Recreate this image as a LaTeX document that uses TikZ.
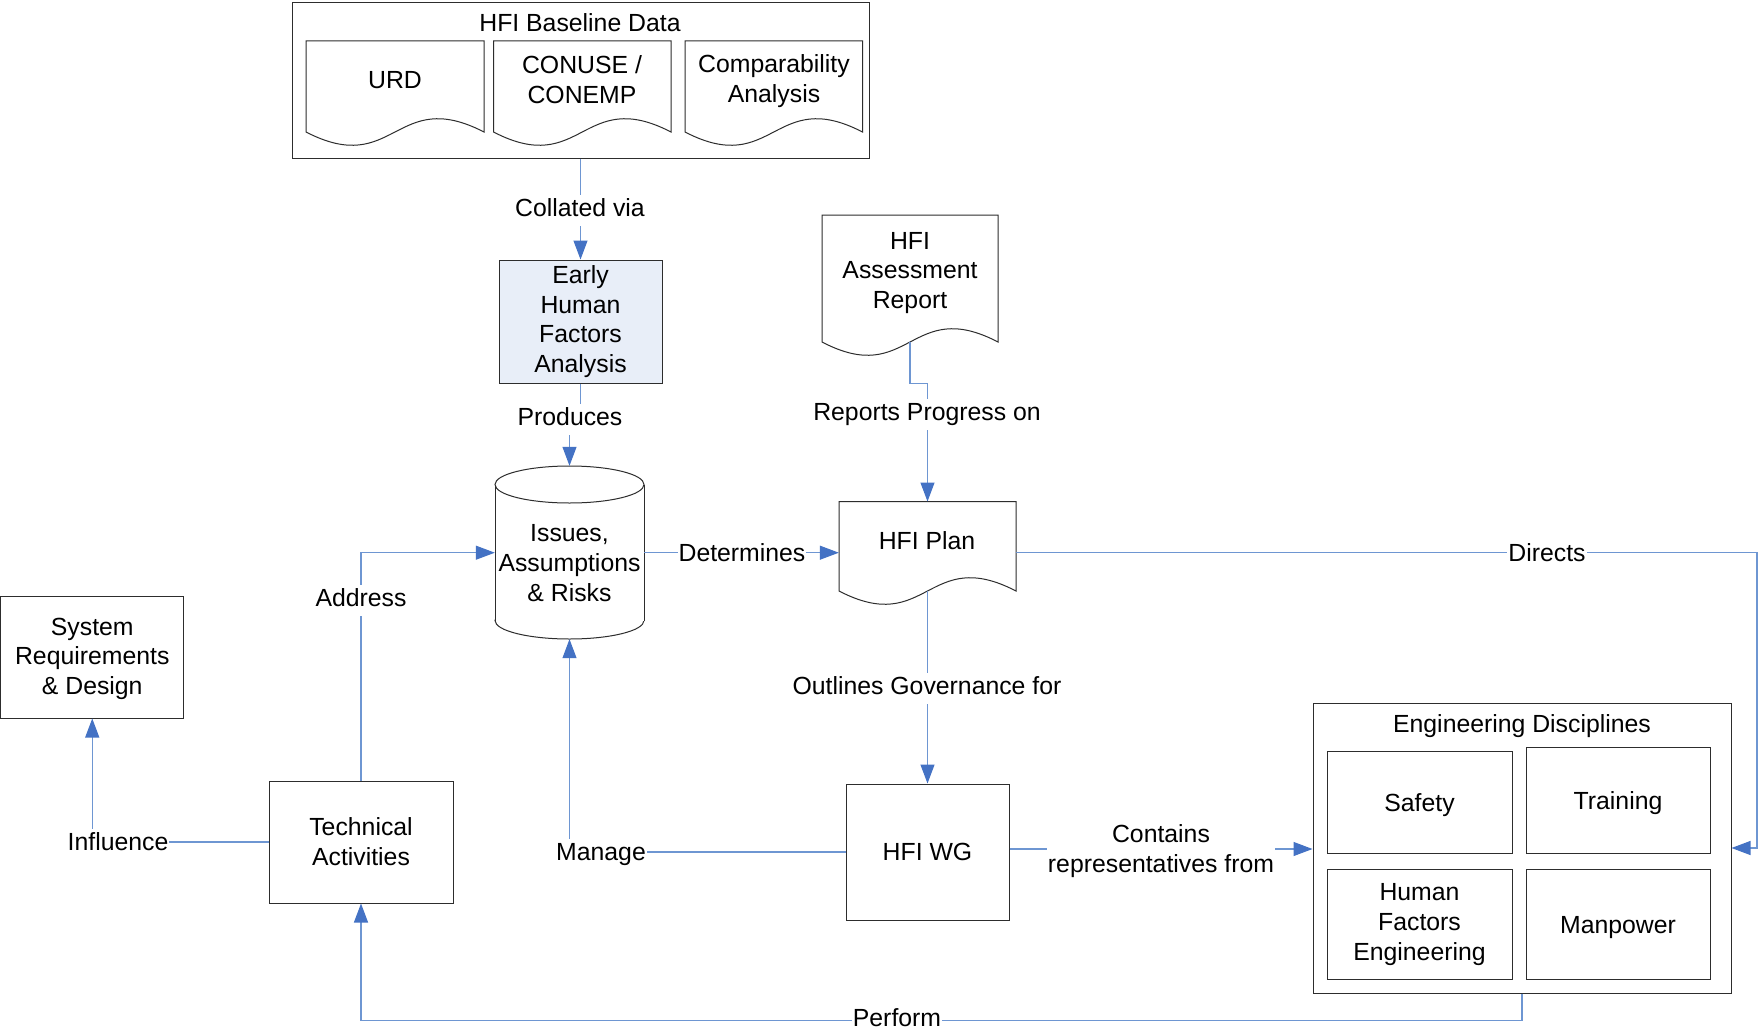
\documentclass[tikz,border=0pt]{standalone}
\usepackage{fontspec}
\setmainfont{Liberation Sans}
\usetikzlibrary{arrows.meta,calc}
\definecolor{connc}{RGB}{110,150,210}
\definecolor{arrowc}{RGB}{68,114,196}
\definecolor{ehfafill}{RGB}{232,238,248}
\definecolor{borderc}{RGB}{45,45,45}
\newcommand\docshape[4]{%
  \draw[boxline] (#1,#4) -- (#1,#2) -- (#3,#2) -- (#3,#4) .. controls ({(#1+#3)/2},{#4-46}) and ({(#1+#3)/2},{#4+46}) .. (#1,#4) -- cycle;}
\begin{document}
\begin{tikzpicture}[x=1pt,y=-1pt,
  every node/.style={font=\fontsize{24.8}{29.8}\selectfont, inner sep=0pt},
  boxline/.style={draw=borderc, line width=1pt},
  plainbox/.style={boxline, rectangle, align=center},
  connline/.style={draw=connc, line width=1.1pt},
  arr/.style={connline, -{Triangle[length=19pt,width=14pt,color=arrowc]}},
  lab/.style={fill=white, inner xsep=1pt, inner ysep=4pt, text height=18pt, text depth=5pt},
  lab2/.style={fill=white, inner xsep=1pt, inner ysep=3pt, align=center},
  anchorbox/.style={rectangle, draw=none, inner sep=0pt}]
\useasboundingbox (0,0) rectangle (1758,1030);
\fill[white] (0,0) rectangle (1758,1030);

% HFI Baseline Data group
\node (base) [plainbox, minimum width=577pt, minimum height=155pt] at (580.5,80.5) {};
\node (basetitle) at (580,23) {HFI Baseline Data};
\docshape{306}{41}{484}{132}
\node (urd) at (395,80) {URD};
\docshape{493.5}{41}{671}{132}
\node (conuse) [align=center] at (582,80) {CONUSE /\\CONEMP};
\docshape{685}{41}{862.5}{132}
\node (comp) [align=center] at (774,81) {Comparability\\Analysis};

% Early Human Factors Analysis
\node (ehfa) [plainbox, fill=ehfafill, minimum width=163pt, minimum height=123pt] at (580.5,321.5) {Early\\Human\\Factors\\Analysis};

% Cylinder
\draw[boxline, fill=white] (569.5,620.5) ellipse [x radius=74.5, y radius=18.5];
\fill[white] (495,484.5) rectangle (644,620.5);
\draw[boxline] (495,484.5) -- (495,620.5) (644,484.5) -- (644,620.5);
\draw[boxline] (569.5,484.5) ellipse [x radius=74.5, y radius=18.5];
\node (iar) [anchorbox, minimum width=149pt, minimum height=173pt] at (569.5,552.5) {};
\node (iartext) [align=center] at (569.5,563) {Issues,\\Assumptions\\\& Risks};

% HFI Assessment Report
\docshape{822}{215}{998}{342}
\node (ar) [anchorbox, minimum width=176pt, minimum height=127pt] at (910,278.5) {};
\node (artext) [align=center] at (910,273) {HFI\\Assessment\\Report};

% HFI Plan
\docshape{839}{501.7}{1016}{591}
\node (plan) [anchorbox, minimum width=177pt, minimum height=89.3pt] at (927.5,546.35) {};
\node (plantext) at (927,541) {HFI Plan};

% HFI WG
\node (wg) [plainbox, minimum width=163pt, minimum height=136pt] at (927.5,852) {HFI WG};

% System Requirements
\node (sys) [plainbox, minimum width=183pt, minimum height=122pt] at (92.25,657) {\strut System\\Requirements\\\& Design};

% Technical Activities
\node (ta) [plainbox, minimum width=184pt, minimum height=122pt] at (361,842) {Technical\\Activities};

% Engineering Disciplines
\node (eng) [plainbox, minimum width=418pt, minimum height=290pt] at (1522,848) {};
\node (engtitle) at (1522,726) {Engineering Disciplines};
\node (safety) [plainbox, minimum width=185pt, minimum height=102pt] at (1419.5,802) {\raisebox{0pt}[18pt][0pt]{Safety}};
\node (training) [plainbox, minimum width=184pt, minimum height=106pt] at (1618,800) {\raisebox{0pt}[18pt][0pt]{Training}};
\node (hfe) [plainbox, minimum width=185pt, minimum height=110pt] at (1419.5,924) {\raisebox{0pt}[18pt][0pt]{Human}\\Factors\\Engineering};
\node (manpower) [plainbox, minimum width=184pt, minimum height=110pt] at (1618,924) {\raisebox{0pt}[18pt][0pt]{Manpower}};

% Connectors
\coordinate (yA) at (0,552.7);
\coordinate (yC) at (0,849);
\coordinate (dirc) at (1757,552.7);
\draw[arr] (base.south) -- (ehfa.north);
\draw[arr] (ehfa.south) -- ++(0,34) -| (iar.north);
\draw[arr] (ar.south) -- ++(0,41) -| (plan.north);
\draw[arr] (iar.east |- yA) -- (plan.west |- yA);
\draw[arr] (plan.east |- yA) -- (dirc) |- (eng.east);
\draw[arr] (plan.south) -- (wg.north);
\draw[arr] (wg.east |- yC) -- (eng.west |- yC);
\draw[arr] (wg.west) -| (iar.south);
\draw[arr] (ta.north) |- (iar.west |- yA);
\draw[arr] (ta.west) -| (sys.south);
\draw[arr] (eng.south) -- ++(0,27) -| (ta.south);

% Labels
\node[lab] (lcoll) at (580,210) {Collated via};
\node[lab] (lprod) at (570,419) {Produces};
\node[lab] (lrep) at (927,414) {Reports Progress on};
\node[lab] (ldet) at (742,555) {Determines};
\node[lab] (ldir) at (1547,555) {Directs};
\node[lab] (lout) at (927,688) {Outlines Governance for};
\node[lab2] (lcont) at (1161,851) {Contains\\representatives from};
\node[lab] (lman) at (601,854) {Manage};
\node[lab] (ladd) at (361,600) {Address};
\node[lab] (linf) at (118,844) {Influence};
\node[lab, text depth=1pt, inner ysep=2pt] (lperf) at (897,1018) {Perform};
\end{tikzpicture}
\end{document}
